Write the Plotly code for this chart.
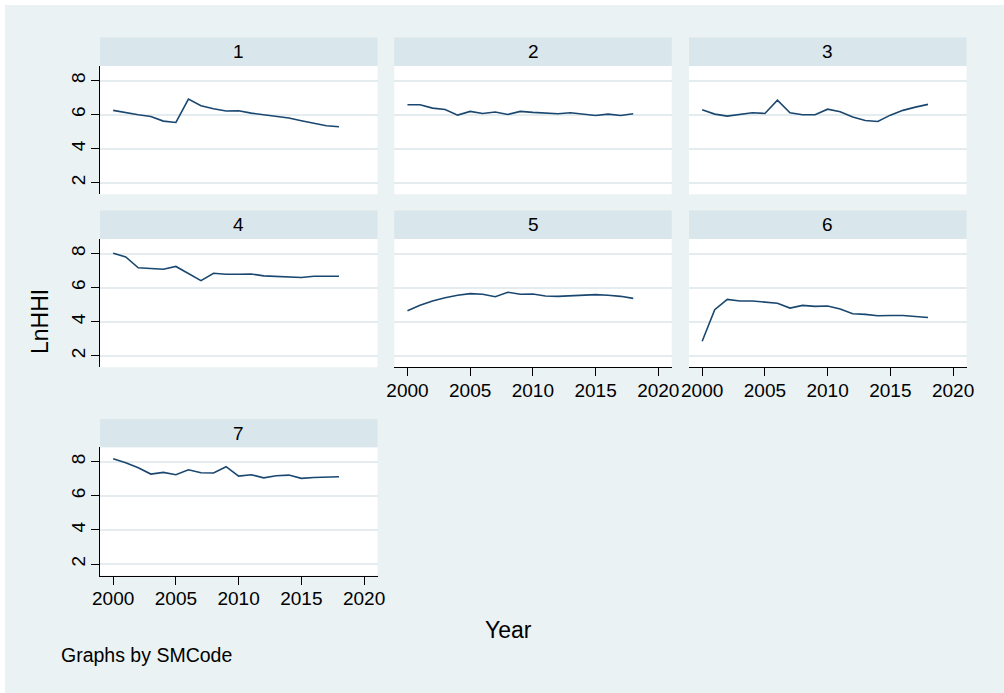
import plotly.graph_objects as go

years = list(range(2000, 2019))
panel_names = ["1", "2", "3", "4", "5", "6", "7"]

s1 = [6.25, 6.11, 5.99, 5.89, 5.62, 5.54, 6.91, 6.52, 6.34, 6.21, 6.23, 6.09, 5.99, 5.91, 5.80, 5.64, 5.49, 5.35, 5.29]
s2 = [6.58, 6.58, 6.38, 6.30, 5.97, 6.19, 6.07, 6.15, 6.01, 6.19, 6.13, 6.09, 6.05, 6.11, 6.03, 5.95, 6.03, 5.95, 6.05]
s3 = [6.28, 6.03, 5.91, 6.03, 6.11, 6.07, 6.85, 6.11, 5.99, 5.99, 6.32, 6.17, 5.86, 5.66, 5.60, 5.97, 6.25, 6.44, 6.60]
s4 = [8.02, 7.80, 7.16, 7.10, 7.08, 7.24, 6.80, 6.41, 6.84, 6.78, 6.78, 6.80, 6.69, 6.65, 6.59, 6.59, 6.67, 6.67, 6.67]
s5 = [4.65, 4.96, 5.22, 5.41, 5.55, 5.65, 5.61, 5.47, 5.73, 5.61, 5.63, 5.51, 5.49, 5.53, 5.57, 5.59, 5.55, 5.49, 5.37]
s6 = [2.86, 4.71, 5.31, 5.22, 5.22, 5.14, 5.08, 4.80, 4.96, 4.90, 4.92, 4.75, 4.47, 4.43, 4.35, 4.37, 4.37, 4.31, 4.25]
s7 = [8.18, 7.94, 7.65, 7.28, 7.38, 7.24, 7.53, 7.36, 7.34, 7.71, 7.16, 7.24, 7.06, 7.18, 7.22, 7.03, 7.08, 7.12, 7.12]
series = [s1, s2, s3, s4, s5, s6, s7]

x_tickvals = [2000, 2005, 2010, 2015, 2020]
y_tickvals = [2, 4, 6, 8]

W, H = 1004, 693
cols = [(100, 377.5), (394.3, 671.7), (689, 966.5)]
rows = [(66, 194.3), (239, 367.3), (447.3, 575.5)]
hdr_h = 28.4

def fx(px):
    return px / W

def fy(py):
    return 1 - py / H

FONT = "Arial, Liberation Sans, sans-serif"
LINE_COLOR = "#1a476f"
GRID = "#e4ecef"
HDR = "#d9e6eb"
BG = "#eaf2f3"

fig = go.Figure()
layout = {}
shapes = []
annotations = []

bottom_panels = {4, 5, 6}
left_panels = {0, 3, 6}

for i, (name, ys) in enumerate(zip(panel_names, series)):
    r, c = divmod(i, 3)
    x0, x1 = cols[c]
    y0, y1 = rows[r]
    n = "" if i == 0 else str(i + 1)
    xa = "xaxis" + n
    ya = "yaxis" + n
    fig.add_trace(go.Scatter(x=years, y=ys, mode="lines",
                             line=dict(color=LINE_COLOR, width=1.6),
                             xaxis="x" + n, yaxis="y" + n, showlegend=False,
                             hoverinfo="x+y"))
    showx = i in bottom_panels
    showy = i in left_panels
    layout[xa] = dict(domain=[fx(x0), fx(x1)], anchor="y" + n, automargin=False,
                      range=[1998.95, 2021.07], showgrid=False, zeroline=False,
                      showline=showx, linecolor="black", linewidth=1,
                      ticks="outside" if showx else "", ticklen=8, tickcolor="black", tickwidth=1,
                      tickvals=x_tickvals, showticklabels=showx,
                      tickfont=dict(family=FONT, size=19, color="black"),
                      ticklabelstandoff=-2)
    layout[ya] = dict(domain=[fy(y1), fy(y0)], anchor="x" + n, automargin=False,
                      range=[1.33, 8.85], showgrid=True, gridcolor=GRID, gridwidth=1.5,
                      zeroline=False, showline=showy, linecolor="black", linewidth=1,
                      ticks="outside" if showy else "", ticklen=8, tickcolor="black", tickwidth=1,
                      tickvals=y_tickvals, showticklabels=showy, tickangle=-90,
                      tickfont=dict(family=FONT, size=19, color="black"),
                      ticklabelstandoff=-2)
    shapes.append(dict(type="rect", xref="paper", yref="paper",
                       x0=fx(x0), x1=fx(x1), y0=fy(y0), y1=fy(y0 - hdr_h),
                       fillcolor=HDR, line=dict(width=0), layer="below"))
    annotations.append(dict(text=name, xref="paper", yref="paper",
                            x=fx((x0 + x1) / 2), y=fy(y0 - hdr_h / 2),
                            xanchor="center", yanchor="middle", showarrow=False,
                            font=dict(family=FONT, size=19, color="black")))

shapes.append(dict(type="rect", xref="paper", yref="paper", x0=0, x1=fx(5), y0=0, y1=1,
                   fillcolor="white", line=dict(width=0), layer="below"))
shapes.append(dict(type="rect", xref="paper", yref="paper", x0=0, x1=1, y0=fy(5), y1=1,
                   fillcolor="white", line=dict(width=0), layer="below"))

annotations.append(dict(text="LnHHI", xref="paper", yref="paper", x=fx(40), y=fy(322),
                        xanchor="center", yanchor="middle", textangle=-90, showarrow=False,
                        font=dict(family=FONT, size=23, color="black")))
annotations.append(dict(text="Year", xref="paper", yref="paper", x=fx(508), y=fy(630),
                        xanchor="center", yanchor="middle", showarrow=False,
                        font=dict(family=FONT, size=23, color="black")))
annotations.append(dict(text="Graphs by SMCode", xref="paper", yref="paper", x=fx(59), y=fy(655),
                        xanchor="left", yanchor="middle", showarrow=False,
                        font=dict(family=FONT, size=19.5, color="black")))

fig.update_layout(width=W, height=H, margin=dict(l=0, r=0, t=0, b=0, autoexpand=False),
                  paper_bgcolor=BG, plot_bgcolor="white",
                  shapes=shapes, annotations=annotations, **layout)

fig.write_html("out.html",
               post_script="document.body.style.margin='0';",
               config={"displayModeBar": False})
